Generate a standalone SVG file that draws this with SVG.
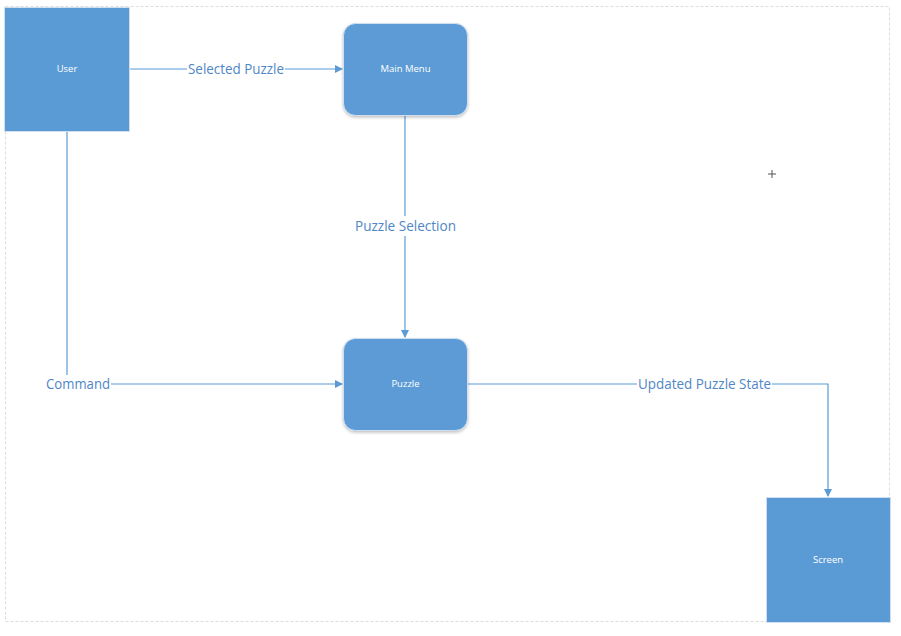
<svg xmlns="http://www.w3.org/2000/svg" width="901" height="636" viewBox="0 0 901 636">
<defs>
<marker id="arr" markerWidth="8" markerHeight="8" refX="7" refY="4" orient="auto" markerUnits="userSpaceOnUse">
<path d="M0,0 L8,4 L0,8 Z" fill="#5b9bd5"/>
</marker>
<filter id="sh" x="-10%" y="-10%" width="120%" height="125%">
<feDropShadow dx="0" dy="1.5" stdDeviation="1.5" flood-color="#000" flood-opacity="0.25"/>
</filter>
<style>
.node{fill:#5b9bd5;stroke:#d0dff0;stroke-width:1}
.nt{font-family:"Open Sans","Liberation Sans",sans-serif;font-size:9.5px;fill:#ffffff;text-anchor:middle}
.ln{fill:none;stroke:#5b9bd5;stroke-width:1.2}
.lb{font-family:"Open Sans","Liberation Sans",sans-serif;font-size:14.5px;fill:#4f86c6;text-anchor:middle}
</style>
</defs>
<rect width="901" height="636" fill="#ffffff"/>
<rect x="5.5" y="6.5" width="884" height="615" fill="none" stroke="#dcdcdc" stroke-width="1" stroke-dasharray="3,2"/>
<g id="connectors">
<path class="ln" d="M129,69 H187"/>
<path class="ln" d="M285,69 H342" marker-end="url(#arr)"/>
<text class="lb" x="236" y="74" textLength="96" lengthAdjust="spacingAndGlyphs">Selected Puzzle</text>
<path class="ln" d="M405,116 V216"/>
<path class="ln" d="M405,236 V337" marker-end="url(#arr)"/>
<text class="lb" x="405.5" y="231" textLength="101" lengthAdjust="spacingAndGlyphs">Puzzle Selection</text>
<path class="ln" d="M67,131 V375"/>
<text class="lb" x="78" y="389" textLength="64" lengthAdjust="spacingAndGlyphs">Command</text>
<path class="ln" d="M111,384 H342" marker-end="url(#arr)"/>
<path class="ln" d="M468,384 H637"/>
<text class="lb" x="704.5" y="389" textLength="133" lengthAdjust="spacingAndGlyphs">Updated Puzzle State</text>
<path class="ln" d="M772,384 H828 V496" marker-end="url(#arr)"/>
</g>
<g id="user">
<rect class="node" x="4.5" y="7.5" width="125" height="124"/>
<text class="nt" x="67" y="72">User</text>
</g>
<g id="main-menu">
<rect class="node" x="343.5" y="23.5" width="124" height="92" rx="12" filter="url(#sh)"/>
<text class="nt" x="405.5" y="72">Main Menu</text>
</g>
<g id="puzzle">
<rect class="node" x="343.5" y="338.5" width="124" height="92" rx="12" filter="url(#sh)"/>
<text class="nt" x="405.5" y="387">Puzzle</text>
</g>
<g id="screen">
<rect class="node" x="766.5" y="497.5" width="124" height="125"/>
<text class="nt" x="828" y="563">Screen</text>
</g>
<g id="cursor" stroke="#555" stroke-width="1">
<path d="M772,170 V178 M768,174 H776"/>
</g>
</svg>
